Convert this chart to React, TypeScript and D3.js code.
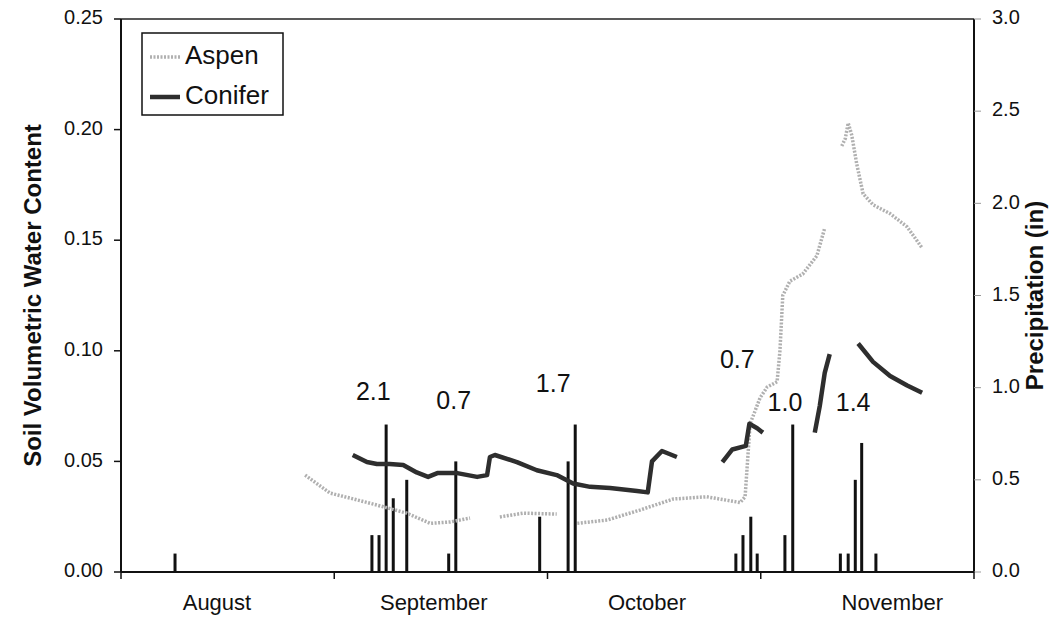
import { scaleLinear, line } from 'd3';

const width = 1051;
const height = 619;
const margin = { left: 121, right: 77, top: 19, bottom: 47 };

// x is in days from Aug 1 (axis drawn as four equal month blocks)
const monthNames = ['August', 'September', 'October', 'November'];
const monthLabelDays = [13.5, 44, 74, 108.5];
const monthTickDays = [0, 30, 60, 90, 120];

const vwcTicks = [0, 0.05, 0.1, 0.15, 0.2, 0.25];
const precipTicks = [0, 0.5, 1, 1.5, 2, 2.5, 3];

// daily precipitation (in)
const rainDays = [7.6, 35.3, 36.3, 37.3, 38.3, 40.2, 46.1, 47.1, 58.9, 62.9, 63.9,
  86.5, 87.5, 88.6, 89.5, 93.4, 94.5, 101.2, 102.3, 103.3, 104.2, 106.2];
const rainInches = [0.1, 0.2, 0.2, 0.8, 0.4, 0.5, 0.1, 0.6, 0.3, 0.6, 0.8,
  0.1, 0.2, 0.3, 0.1, 0.2, 0.8, 0.1, 0.1, 0.5, 0.7, 0.1];

// storm totals written above the bars
const stormTotals = ['2.1', '0.7', '1.7', '0.7', '1.0', '1.4'];
const stormDays = [35.5, 46.8, 60.8, 86.7, 93.4, 103];
const stormLabelIn = [0.97, 0.92, 1.01, 1.14, 0.91, 0.91];

// soil water content, null = gap in record
const aspenDays = [25.9, 29.4, 33.2, 36.9, 40.2, 43.5, 46.3, 49.1, null,
  53.3, 56.6, 61.3, null,
  64.2, 68.4, 73.0, 77.7, 82.4, 87.1, 87.8, 88.5, 89.9, 90.9, 92.3, 92.7, 93.1, 94.1, 95.9, 97.9, 99.0, null,
  101.4, 101.9, 102.3, 102.8, 103.5, 104.4, 105.8, 108.2, 110.6, 112.7];
const aspenVwc = [0.0438, 0.0357, 0.0326, 0.0295, 0.0266, 0.022, 0.0226, 0.0244, null,
  0.0249, 0.0266, 0.0262, null,
  0.022, 0.0235, 0.028, 0.033, 0.034, 0.0314, 0.034, 0.067, 0.0787, 0.0836, 0.086, 0.1, 0.125, 0.1315, 0.1347, 0.143, 0.1555, null,
  0.1926, 0.196, 0.203, 0.1975, 0.1845, 0.171, 0.166, 0.162, 0.156, 0.1465];

const coniferDays = [32.6, 34.6, 36.0, 37.8, 39.7, 41.6, 43.2, 44.5, 47.3, 50.1, 51.5, 51.9, 52.6,
  55.7, 58.5, 61.3, 63.6, 66.0, 68.8, 72.6, 74.1, 74.7, 76.1, 78.2, null,
  84.6, 86.0, 87.9, 88.4, 89.5, 90.3, null,
  97.6, 98.3, 99.0, 99.7, null,
  103.7, 105.8, 108.2, 110.6, 112.7];
const coniferVwc = [0.0529, 0.0497, 0.0488, 0.0488, 0.0484, 0.045, 0.043, 0.0447, 0.0447, 0.043, 0.0438, 0.052, 0.0529,
  0.0497, 0.046, 0.0438, 0.040, 0.0385, 0.038, 0.0366, 0.036, 0.050, 0.0547, 0.052, null,
  0.0497, 0.0554, 0.057, 0.067, 0.065, 0.063, null,
  0.063, 0.075, 0.090, 0.0985, null,
  0.1033, 0.095, 0.0886, 0.0843, 0.081];

const font = 'Arial, "Liberation Sans", sans-serif';
const aspenColor = '#b0b0b0';
const coniferColor = '#2e2e2e';

const App = () => {
  const x = scaleLinear().domain([0, 120]).range([margin.left, width - margin.right]);
  const y = scaleLinear().domain([0, 0.25]).range([height - margin.bottom, margin.top]);
  const yP = scaleLinear().domain([0, 3]).range([height - margin.bottom, margin.top]);

  const x0 = x(0), x1 = x(120), yb = y(0), yt = y(0.25);

  const toPts = (ds: (number | null)[], vs: (number | null)[]) =>
    ds.map((d, i) => [d, vs[i]] as [number | null, number | null]);
  const lineGen = line<[number | null, number | null]>()
    .defined(d => d[0] !== null && d[1] !== null)
    .x(d => x(d[0] as number))
    .y(d => y(d[1] as number));

  return (
    <svg width={width} height={height}
      style={{ position: 'absolute', left: 0, top: 0, background: '#fff' }}
      fontFamily={font}>
      {/* precipitation bars */}
      {rainDays.map((d, i) => (
        <rect key={'r' + i} x={x(d) - 1.5} y={yP(rainInches[i])} width={3}
          height={yP(0) - yP(rainInches[i])} fill="#111" />
      ))}

      {/* soil moisture lines */}
      <path d={lineGen(toPts(aspenDays, aspenVwc)) || ''} fill="none" stroke={aspenColor}
        strokeWidth={3.5} strokeDasharray="2 1.5" />
      <path d={lineGen(toPts(coniferDays, coniferVwc)) || ''} fill="none" stroke={coniferColor}
        strokeWidth={4.5} strokeLinejoin="round" />

      {/* storm totals */}
      {stormTotals.map((t, i) => (
        <text key={'s' + i} x={x(stormDays[i])} y={yP(stormLabelIn[i])} fontSize={25}
          textAnchor="middle" dominantBaseline="middle" fill="#111">{t}</text>
      ))}

      {/* frame */}
      <line x1={x0} x2={x1} y1={yt} y2={yt} stroke="#222" strokeWidth={1.5} />
      <line x1={x0} x2={x1} y1={yb} y2={yb} stroke="#111" strokeWidth={2} />
      <line x1={x0} x2={x0} y1={yt} y2={yb} stroke="#111" strokeWidth={2} />
      <line x1={x1} x2={x1} y1={yt} y2={yb} stroke="#111" strokeWidth={2} />

      {/* left axis */}
      {vwcTicks.map(t => (
        <g key={'l' + t}>
          <line x1={x0 - 7} x2={x0} y1={y(t)} y2={y(t)} stroke="#111" strokeWidth={1.5} />
          <text x={x0 - 18} y={y(t)} fontSize={20} textAnchor="end" dominantBaseline="middle"
            fill="#111">{t.toFixed(2)}</text>
        </g>
      ))}
      <text transform={`translate(35,${(yb + yt) / 2}) rotate(-90)`} fontSize={24}
        fontWeight="bold" textAnchor="middle" dominantBaseline="middle" fill="#111">
        Soil Volumetric Water Content
      </text>

      {/* right axis */}
      {precipTicks.map(t => (
        <g key={'p' + t}>
          <line x1={x1} x2={x1 + 7} y1={yP(t)} y2={yP(t)} stroke="#999" strokeWidth={1} />
          <text x={x1 + 18} y={yP(t)} fontSize={20} dominantBaseline="middle"
            fill="#111">{t.toFixed(1)}</text>
        </g>
      ))}
      <text transform={`translate(1037,${(yb + yt) / 2}) rotate(-90)`} fontSize={24}
        fontWeight="bold" textAnchor="middle" dominantBaseline="middle" fill="#111">
        Precipitation (in)
      </text>

      {/* x axis */}
      {monthTickDays.map(d => (
        <line key={'t' + d} x1={x(d)} x2={x(d)} y1={yb} y2={yb + 7} stroke="#111" strokeWidth={1.5} />
      ))}
      {monthNames.map((m, i) => (
        <text key={m} x={x(monthLabelDays[i])} y={yb + 32} fontSize={22} textAnchor="middle"
          dominantBaseline="middle" fill="#111">{m}</text>
      ))}

      {/* legend */}
      <rect x={142} y={33} width={141} height={82} fill="#fff" stroke="#111" strokeWidth={1.5} />
      <line x1={150} x2={180} y1={57} y2={57} stroke={aspenColor} strokeWidth={3.5} strokeDasharray="2 1.5" />
      <text x={185} y={57} fontSize={26} dominantBaseline="middle" fill="#111">Aspen</text>
      <line x1={150} x2={180} y1={97} y2={97} stroke={coniferColor} strokeWidth={4.5} />
      <text x={185} y={97} fontSize={26} dominantBaseline="middle" fill="#111">Conifer</text>
    </svg>
  );
};

export default App;
